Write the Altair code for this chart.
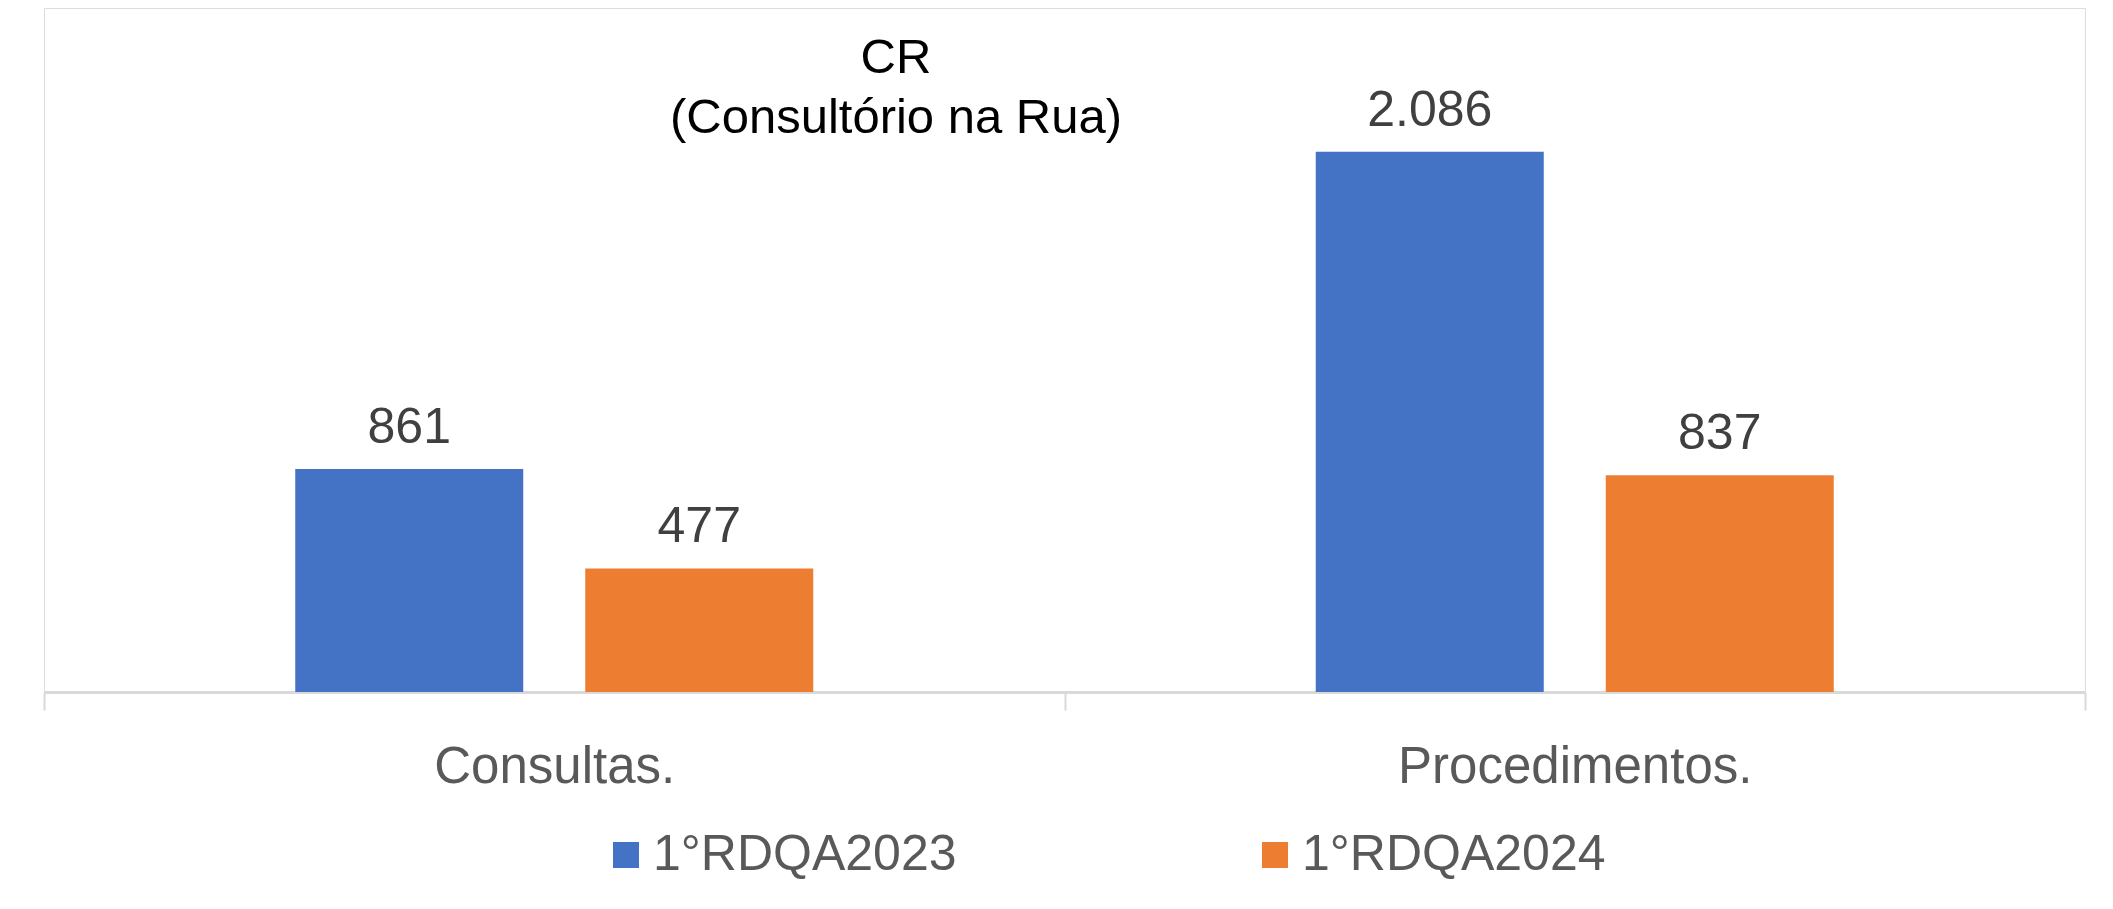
import altair as alt
import pandas as pd

categories = ["Consultas.", "Procedimentos."]
series = ["1°RDQA2023", "1°RDQA2024"]
values_2023 = [861, 2086]
values_2024 = [477, 837]
colors = ["#4472C4", "#ED7D31"]
title_lines = ["CR", "(Consultório na Rua)"]

rows = []
for s, vals in zip(series, [values_2023, values_2024]):
    for c, v in zip(categories, vals):
        rows.append({"categoria": c, "serie": s, "valor": v,
                     "rotulo": f"{v:,}".replace(",", ".")})
df = pd.DataFrame(rows)

FONT = "Liberation Sans, Arial, sans-serif"

x = alt.X("categoria:N", sort=categories, title=None,
          scale=alt.Scale(paddingInner=0, paddingOuter=0),
          axis=alt.Axis(labelAngle=0, labelFontSize=51, labelColor="#595959", labelFont=FONT,
                        labelPadding=32, labelLimit=0, tickSize=18, tickBand="extent",
                        tickColor="#d9d9d9", tickWidth=2, domainColor="#d9d9d9",
                        domainWidth=3, grid=False))
xo = alt.XOffset("serie:N", sort=series,
                 scale=alt.Scale(paddingInner=0.2138, paddingOuter=0.8664))
y = alt.Y("valor:Q", axis=None, scale=alt.Scale(domain=[0, 2641], nice=False, zero=True))
color = alt.Color("serie:N", sort=series,
                  scale=alt.Scale(domain=series, range=colors),
                  legend=alt.Legend(title=None, orient="none", legendX=557, legendY=822,
                                    direction="horizontal", symbolType="square", symbolSize=676,
                                    symbolStrokeWidth=0, labelFontSize=50, labelColor="#595959",
                                    labelFont=FONT, labelOffset=2, labelLimit=0,
                                    columnPadding=293, padding=0, symbolOpacity=1))

base = alt.Chart(df)
bars = base.mark_bar().encode(x=x, xOffset=xo, y=y, color=color)
labels = base.mark_text(baseline="alphabetic", dy=-26, fontSize=50, color="#404040",
                        font=FONT).encode(x=x, xOffset=xo, y=y, text="rotulo:N")

chart = alt.layer(bars, labels).properties(
    width=2041, height=684,
    autosize=alt.AutoSizeParams(type="none"),
    padding={"left": 36, "top": 0, "right": 20, "bottom": 209},
    title=alt.TitleParams(title_lines, anchor="start", frame="group", align="center",
                          dx=852, offset=-135, fontSize=49, font=FONT, fontWeight="normal",
                          color="#000000", lineHeight=60),
).configure_view(stroke=None).configure(background="white")

chart.save("out.html", embed_options={"renderer": "svg", "actions": False})
